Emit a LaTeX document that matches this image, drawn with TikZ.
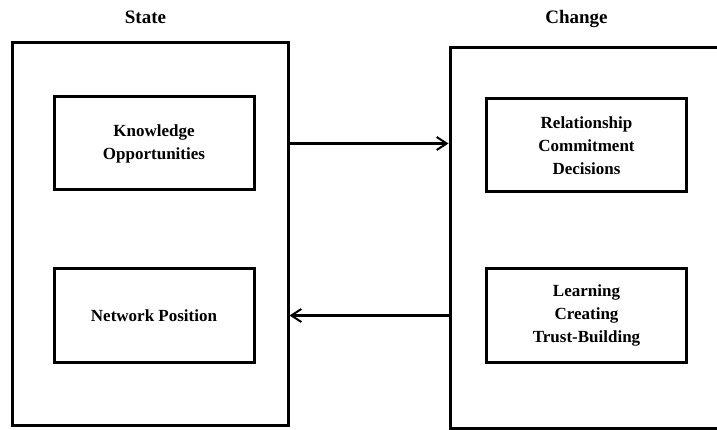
\documentclass[tikz,border=0pt]{standalone}
\usepackage{fontspec}
\setmainfont{Liberation Serif}
\usepackage{tikz}
\usetikzlibrary{arrows,arrows.meta,positioning}
\tikzset{
	block/.style = {draw, fill=white, rectangle, line width=3pt, minimum width=200pt, minimum height=93pt, align=center, font=\fontsize{17}{23}\selectfont\bfseries},
	frame/.style = {draw, rectangle, line width=3pt},
	title/.style = {anchor=base, font=\fontsize{19}{23}\selectfont\bfseries},
	link/.style = {-{Straight Barb[length=10pt,width=13pt,line width=2pt]}, line width=2.2pt}
}

\begin{document}
\begin{tikzpicture}
    \useasboundingbox (0,0) rectangle (717pt,-430pt);
    \clip (0,0) rectangle (717pt,-430pt);

    \node [frame, minimum width=276pt, minimum height=382pt] (statebox) at (150pt,-234pt) {};
    \node [frame, minimum width=300pt, minimum height=380pt] (changebox) at (600pt,-238pt) {};

    \node [title] (state) at (145.5pt,-24pt) {State};
    \node [title] (change) at (576.5pt,-24pt) {Change};

    \node [block] (knowledge) at (154pt,-143.5pt) {Knowledge\\Opportunities};
    \node [block, below of=knowledge, node distance=172pt] (network) {Network Position};

    \node [block, right of=network, node distance=432.5pt] (learning) {Learning\\Creating\\Trust-Building};
    \node [block, above of=learning, node distance=170pt] (relationship) {Relationship\\Commitment\\Decisions};

    \draw [link] (statebox.east |- knowledge) -- (changebox.west |- knowledge);
    \draw [link] (changebox.west |- network) -- (statebox.east |- network);
\end{tikzpicture}
\end{document}
